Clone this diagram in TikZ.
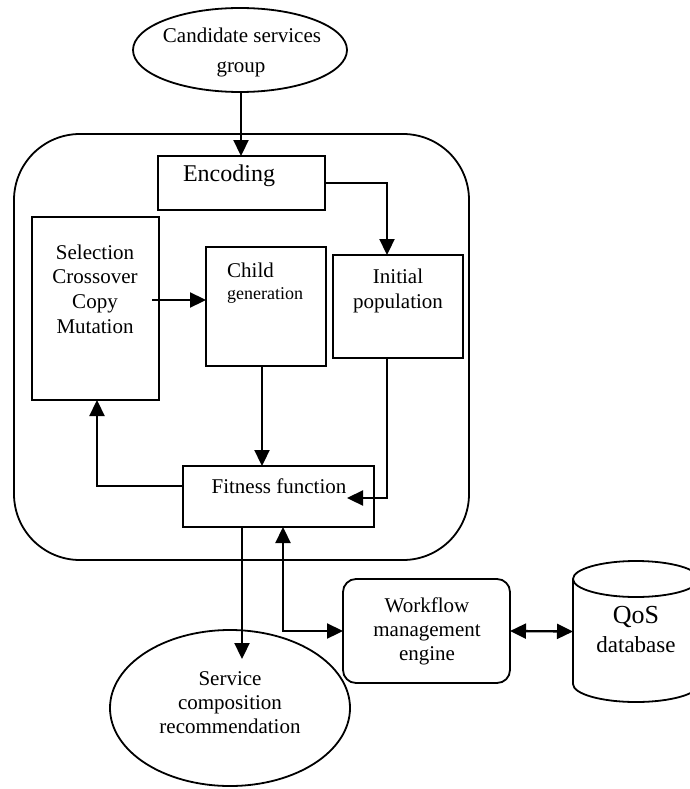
\documentclass[tikz,border=0pt]{standalone}
\usepackage{fontspec}
\setmainfont{Liberation Serif}
\usetikzlibrary{shapes.geometric,arrows.meta}

\begin{document}
\begin{tikzpicture}[x=1pt,y=-1pt,
  shp/.style={draw,line width=1.8pt,inner sep=0pt,outer sep=0pt},
  box/.style={shp,rectangle},
  oval/.style={shp,ellipse},
  ln/.style={inner sep=0pt,anchor=base,font=\fontsize{21}{24}\selectfont},
  tip/.tip={Triangle[length=16pt,width=15pt]},
  arr/.style={line width=2.3pt,-tip},
  darr/.style={line width=2.3pt,tip-tip},
]
\useasboundingbox (0,0) rectangle (689,789);

% outer GA frame
\node[shp,rectangle,rounded corners=66pt,minimum width=455pt,minimum height=426pt] (frame) at (241.5,347) {};

% shapes
\node[oval,minimum width=214pt,minimum height=84pt] (cand) at (240,50) {};
\node[box,minimum width=167pt,minimum height=54pt] (enc) at (241.5,183) {};
\node[box,minimum width=127pt,minimum height=183pt] (sel) at (95.5,308.5) {};
\node[box,minimum width=120pt,minimum height=119pt] (child) at (266,306.5) {};
\node[box,minimum width=130pt,minimum height=103pt] (init) at (398,306.5) {};
\node[box,minimum width=191pt,minimum height=61pt] (fit) at (278.5,496.5) {};
\node[oval,minimum width=240pt,minimum height=156pt] (serv) at (230,708) {};
\node[shp,rectangle,rounded corners=13pt,minimum width=167pt,minimum height=104pt] (wf) at (426.5,631) {};
\node[inner sep=0pt,outer sep=0pt,minimum width=126pt,minimum height=105pt] (db) at (636,631.5) {};

% QoS database cylinder
\draw[line width=1.8pt] (db.north west) -- (db.south west)
  arc[start angle=180,end angle=360,x radius=63pt,y radius=18pt] -- (db.north east);
\draw[line width=1.8pt] (db.north) ellipse[x radius=63pt,y radius=18pt];

% texts
\node[ln] (t1) at (242,43) {Candidate services};
\node[ln] (t2) at (241,73) {group};
\node[ln,font=\fontsize{24}{28}\selectfont] (t3) at (229,181) {Encoding};
\node[ln] (t4) at (95,259) {Selection};
\node[ln] (t5) at (95,283) {Crossover};
\node[ln] (t6) at (95,308) {Copy};
\node[ln] (t7) at (95,333) {Mutation};
\node[ln,anchor=base west] (t8) at (227,277) {Child};
\node[ln,anchor=base west,font=\fontsize{18}{21}\selectfont] (t9) at (227,299) {generation};
\node[ln] (t10) at (398,283) {Initial};
\node[ln] (t11) at (398,308) {population};
\node[ln] (t12) at (279,493) {Fitness function};
\node[ln] (t13) at (427,612) {Workflow};
\node[ln] (t14) at (427,636) {management};
\node[ln] (t15) at (427,660) {engine};
\node[ln,font=\fontsize{26}{30}\selectfont] (t16) at (636,623) {QoS};
\node[ln,font=\fontsize{23}{27}\selectfont] (t17) at (636,652) {database};
\node[ln] (t18) at (230,685) {Service};
\node[ln] (t19) at (230,709) {composition};
\node[ln] (t20) at (230,733) {recommendation};

% connectors
\coordinate (s2) at ([yshift=-29pt]serv.north);
\draw[arr] ([xshift=1pt]cand.south) -- ([xshift=1pt]cand.south |- enc.north);
\draw[arr] (enc.east) -| ([xshift=-11pt]init.north);
\draw[arr] ([xshift=-7pt,yshift=8.5pt]sel.east) coordinate (s1) -- (s1 -| child.west);
\draw[arr] ([xshift=-4pt]child.south) coordinate (c1) -- (c1 |- fit.north);
\draw[arr] ([xshift=-11pt]init.south) |- ([xshift=-27pt,yshift=-1.5pt]fit.east);
\draw[arr] ([yshift=10.5pt]fit.west) -| ([xshift=1.5pt]sel.south);
\draw[arr] ([xshift=-36.5pt]fit.south) coordinate (f1) -- (f1 |- s2);
\draw[darr] ([xshift=4.5pt]fit.south) |- (wf.west);
\draw[darr] (wf.east) -- (db.west);
\end{tikzpicture}
\end{document}
